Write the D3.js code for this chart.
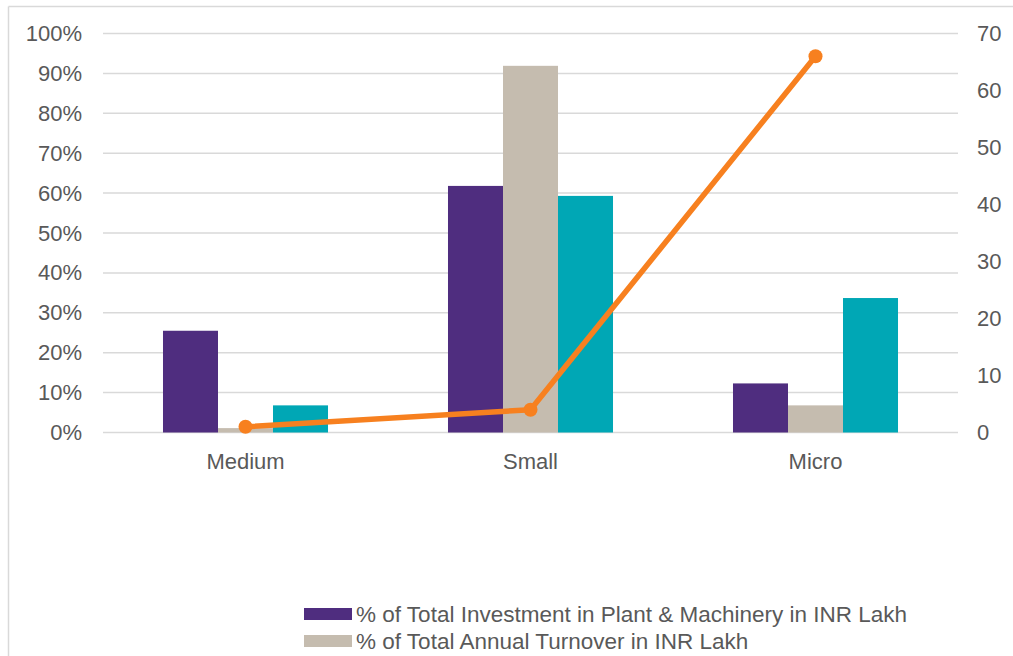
<!DOCTYPE html>
<html>
<head>
<meta charset="utf-8">
<script src="https://cdn.jsdelivr.net/npm/d3@7"></script>
<style>
html,body{margin:0;padding:0;background:#fff;}
svg{display:block;font-family:"Liberation Sans",Arial,sans-serif;}
</style>
</head>
<body>
<svg id="chart" width="1013" height="656"></svg>
<script>
const categories = ["Medium", "Small", "Micro"];
const seriesNames = [
  "% of Total Investment in Plant & Machinery in INR Lakh",
  "% of Total Annual Turnover in INR Lakh",
  "Series 3"
];
const investmentPct = [0.255, 0.618, 0.123];
const turnoverPct = [0.011, 0.919, 0.068];
const thirdPct = [0.068, 0.593, 0.337];
const lineValues = [1, 4, 66];
const leftTicks = [0, 0.1, 0.2, 0.3, 0.4, 0.5, 0.6, 0.7, 0.8, 0.9, 1.0];
const rightTicks = [0, 10, 20, 30, 40, 50, 60, 70];
const colors = ["#4F2D7F", "#C5BCAF", "#00A7B5"];
const lineColor = "#F7801F";

(function () {
const svg = d3.select("#chart");
const pLeft = 103, pRight = 958, pTop = 33.5, pBottom = 432.5;

// frame
svg.append("line").attr("x1", 8.5).attr("x2", 8.5).attr("y1", 6.5).attr("y2", 656).attr("stroke", "#d9d9d9").attr("stroke-width", 1.5);
svg.append("line").attr("x1", 8.5).attr("x2", 1013).attr("y1", 6.5).attr("y2", 6.5).attr("stroke", "#d9d9d9").attr("stroke-width", 1.5);

const x0 = d3.scaleBand().domain(categories).range([pLeft, pRight]).paddingInner(0.421).paddingOuter(0.2105);
const x1 = d3.scaleBand().domain([0, 1, 2]).range([0, x0.bandwidth()]);
const yL = d3.scaleLinear().domain([0, 1]).range([pBottom, pTop]);
const yR = d3.scaleLinear().domain([0, 70]).range([pBottom, pTop]);

// gridlines
svg.append("g").selectAll("line").data(leftTicks).join("line")
  .attr("x1", pLeft).attr("x2", pRight)
  .attr("y1", d => yL(d)).attr("y2", d => yL(d))
  .attr("stroke", "#d9d9d9").attr("stroke-width", 1.5);

const fontStyle = sel => sel.attr("fill", "#595959").style("font-size", "22px").style("font-family", "Liberation Sans, Arial, sans-serif");

// left axis
const axL = svg.append("g").attr("transform", `translate(${pLeft},0)`)
  .call(d3.axisLeft(yL).tickValues(leftTicks).tickFormat(d3.format(".0%")).tickSize(0).tickPadding(21));
axL.select(".domain").remove();
axL.selectAll("text").call(fontStyle);

// right axis
const axR = svg.append("g").attr("transform", `translate(${pRight},0)`)
  .call(d3.axisRight(yR).tickValues(rightTicks).tickSize(0).tickPadding(19));
axR.select(".domain").remove();
axR.selectAll("text").call(fontStyle);

// bottom axis labels
const axB = svg.append("g").attr("transform", `translate(0,${pBottom})`)
  .call(d3.axisBottom(x0).tickSize(0).tickPadding(21));
axB.select(".domain").remove();
axB.selectAll("text").call(fontStyle);

// bars
const seriesData = [investmentPct, turnoverPct, thirdPct];
seriesData.forEach((vals, si) => {
  svg.append("g").selectAll("rect").data(vals).join("rect")
    .attr("x", (d, i) => x0(categories[i]) + x1(si))
    .attr("y", d => yL(d))
    .attr("width", x1.bandwidth())
    .attr("height", d => pBottom - yL(d))
    .attr("fill", colors[si]);
});

// line
const cx = (d, i) => x0(categories[i]) + x0.bandwidth() / 2;
svg.append("path").datum(lineValues)
  .attr("d", d3.line().x(cx).y(d => yR(d)))
  .attr("fill", "none").attr("stroke", lineColor).attr("stroke-width", 5.5).attr("stroke-linejoin", "round");
svg.append("g").selectAll("circle").data(lineValues).join("circle")
  .attr("cx", cx).attr("cy", d => yR(d)).attr("r", 7).attr("fill", lineColor);

// legend
const legend = svg.append("g");
seriesNames.slice(0, 2).forEach((name, i) => {
  const y = 614 + i * 27;
  legend.append("rect").attr("x", 304).attr("y", y - 6).attr("width", 48).attr("height", 12).attr("fill", colors[i]);
  legend.append("text").attr("x", 356).attr("y", y).attr("dy", "0.35em").call(fontStyle)
    .style("font-size", "22.5px").text(name);
});
})();
</script>
</body>
</html>
